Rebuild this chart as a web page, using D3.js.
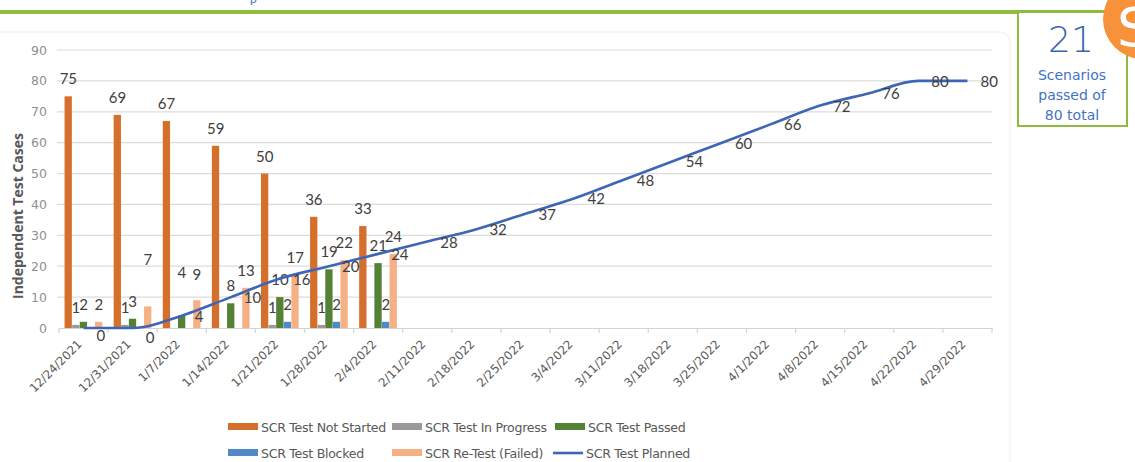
<!DOCTYPE html>
<html><head><meta charset="utf-8">
<script src="https://cdn.jsdelivr.net/npm/d3@7"></script>
<style>
body{margin:0;background:#fff;}
svg{display:block;}
</style></head>
<body>
<svg id="chart" width="1135" height="462"></svg>
<script>
const categories = ["12/24/2021","12/31/2021","1/7/2022","1/14/2022","1/21/2022","1/28/2022","2/4/2022","2/11/2022","2/18/2022","2/25/2022","3/4/2022","3/11/2022","3/18/2022","3/25/2022","4/1/2022","4/8/2022","4/15/2022","4/22/2022","4/29/2022"];
const notStarted = [75,69,67,59,50,36,33,null,null,null,null,null,null,null,null,null,null,null,null];
const inProgress = [1,1,0,0,1,1,0,null,null,null,null,null,null,null,null,null,null,null,null];
const passed     = [2,3,4,8,10,19,21,null,null,null,null,null,null,null,null,null,null,null,null];
const blocked    = [0,0,0,0,2,2,2,null,null,null,null,null,null,null,null,null,null,null,null];
const retest     = [2,7,9,13,17,22,24,null,null,null,null,null,null,null,null,null,null,null,null];
const planned    = [0,0,4,10,16,20,24,28,32,37,42,48,54,60,66,72,76,80,80];
const yTicks = [0,10,20,30,40,50,60,70,80,90];
const seriesNames = ["SCR Test Not Started","SCR Test In Progress","SCR Test Passed","SCR Test Blocked","SCR Re-Test (Failed)","SCR Test Planned"];
const passedCount = 21, totalCount = 80;

const colors = ["#d5702c","#9a9a9a","#538135","#4f89c6","#f5b183","#3d66b6"];
const barSeries = [notStarted,inProgress,passed,blocked,retest];

const svg = d3.select("#chart");
const plotL = 59, plotR = 992, plotT = 50, plotB = 328;
const font = "'Lato','Open Sans',sans-serif";

// faint chart area border
svg.append("rect").attr("x",-20).attr("y",32).attr("width",1030).attr("height",460)
  .attr("rx",10).attr("fill","none").attr("stroke","#ececec").attr("stroke-width",1);

// top green rule
svg.append("rect").attr("x",0).attr("y",10).attr("width",1135).attr("height",4).attr("fill","#8fbc3f");
svg.append("text").attr("x",250).attr("y",3).attr("fill","#4472c4").attr("font-size",12).attr("font-family",font).text("p");

const x = d3.scaleBand().domain(categories).range([plotL,plotR]).paddingInner(0).paddingOuter(0);
const y = d3.scaleLinear().domain([0,90]).range([plotB,plotT]);
const groupW = 38;
const xs = d3.scaleBand().domain(d3.range(5)).range([0,groupW]).padding(0);
const groupOffset = (x.bandwidth()-groupW)/2;

// gridlines
svg.append("g").selectAll("line").data(yTicks.filter(d=>d>0)).join("line")
  .attr("x1",plotL-2).attr("x2",plotR).attr("y1",d=>y(d)).attr("y2",d=>y(d))
  .attr("stroke","#dcdcdc").attr("stroke-width",1.2);

// y axis labels
const yAxis = d3.axisLeft(y).tickValues(yTicks).tickSize(0).tickPadding(0);
const gy = svg.append("g").attr("transform",`translate(${plotL-12},0)`).call(yAxis);
gy.select(".domain").remove();
gy.selectAll("text").attr("font-family","'DejaVu Sans',sans-serif").attr("font-size",12.5).attr("fill","#8f8f8f");

// y title
svg.append("text").attr("transform",`translate(23,216) rotate(-90)`).attr("text-anchor","middle")
  .attr("font-family","'Open Sans',sans-serif").attr("font-weight","bold").attr("font-size",14).attr("fill","#595959")
  .text("Independent Test Cases");

// x axis
const xAxis = d3.axisBottom(x).tickSize(0).tickPadding(0);
const gx = svg.append("g").attr("transform",`translate(0,${plotB})`).call(xAxis);
gx.select(".domain").attr("stroke","#d4d4d4").attr("stroke-width",1.2);
gx.selectAll("text").attr("font-family","'DejaVu Sans',sans-serif").attr("font-size",11.8).attr("fill","#595959")
  .attr("text-anchor","end").attr("dy",0).attr("transform","translate(-1,17) rotate(-45)");
// boundary tick marks
svg.append("g").selectAll("line").data(d3.range(categories.length+1)).join("line")
  .attr("x1",i=>plotL+i*x.bandwidth()).attr("x2",i=>plotL+i*x.bandwidth())
  .attr("y1",plotB).attr("y2",plotB+5).attr("stroke","#d4d4d4").attr("stroke-width",1.2);

// bars
const labelNudge = {"4-1":-29,"2-2":-26,"4-2":-8};
barSeries.forEach((arr,si)=>{
  const data = arr.map((v,i)=>({v,i})).filter(d=>d.v!==null);
  svg.append("g").selectAll("rect").data(data).join("rect")
    .attr("x",d=>x(categories[d.i])+groupOffset+xs(si))
    .attr("width",xs.bandwidth()-0.3)
    .attr("y",d=>y(d.v)).attr("height",d=>plotB-y(d.v))
    .attr("fill",colors[si]);
  svg.append("g").selectAll("text").data(data.filter(d=>d.v>0)).join("text")
    .attr("x",d=>x(categories[d.i])+groupOffset+xs(si)+xs.bandwidth()/2)
    .attr("y",d=>y(d.v)-12+(labelNudge[si+"-"+d.i]||0))
    .attr("text-anchor","middle").attr("font-family",font).attr("font-size",15).attr("fill","#404040")
    .text(d=>d.v);
});

// planned line
const line = d3.line().x((d,i)=>x(categories[i])+x.bandwidth()/2).y(d=>y(d)).curve(d3.curveMonotoneX);
svg.append("path").datum(planned).attr("d",line).attr("fill","none").attr("stroke",colors[5]).attr("stroke-width",2.6);
svg.append("g").selectAll("text").data(planned).join("text")
  .attr("x",(d,i)=>x(categories[i])+x.bandwidth()/2+13)
  .attr("y",(d,i)=>y(d)+(d===0?8+i*2:1)+5)
  .attr("font-family",font).attr("font-size",15).attr("fill","#404040")
  .text(d=>d);

// legend
const legendItems = [
  {name:seriesNames[0],c:colors[0],x:228,y:427,type:"bar"},
  {name:seriesNames[1],c:colors[1],x:392,y:427,type:"bar"},
  {name:seriesNames[2],c:colors[2],x:555,y:427,type:"bar"},
  {name:seriesNames[3],c:colors[3],x:228,y:453,type:"bar"},
  {name:seriesNames[4],c:colors[4],x:392,y:453,type:"bar"},
  {name:seriesNames[5],c:colors[5],x:553,y:453,type:"line"}
];
const lg = svg.append("g").selectAll("g").data(legendItems).join("g");
lg.filter(d=>d.type==="bar").append("rect").attr("x",d=>d.x).attr("y",d=>d.y-4).attr("width",30).attr("height",7).attr("fill",d=>d.c);
lg.filter(d=>d.type==="line").append("line").attr("x1",d=>d.x).attr("x2",d=>d.x+30).attr("y1",d=>d.y).attr("y2",d=>d.y).attr("stroke",d=>d.c).attr("stroke-width",2.6);
lg.append("text").attr("x",d=>d.x+33).attr("y",d=>d.y+4.5).attr("font-family","'DejaVu Sans',sans-serif").attr("font-size",12.6)
  .attr("fill","#595959").attr("letter-spacing",-0.3).text(d=>d.name);

// summary box
svg.append("rect").attr("x",1018).attr("y",12).attr("width",109).attr("height",114).attr("fill","#fff").attr("stroke","#8fbc3f").attr("stroke-width",2);
svg.append("text").attr("x",1071).attr("y",52).attr("text-anchor","middle").attr("font-family","'DejaVu Sans',sans-serif").attr("font-weight",300).attr("font-size",36).attr("fill","#3a64ae").text(passedCount);
["Scenarios","passed of",`${totalCount} total`].forEach((t,i)=>{
  svg.append("text").attr("x",1072).attr("y",80+i*20).attr("text-anchor","middle").attr("font-family","'DejaVu Sans',sans-serif").attr("font-size",14).attr("fill","#4472c4").text(t);
});
svg.append("circle").attr("cx",1143).attr("cy",19).attr("r",40).attr("fill","#f7923a");
svg.append("text").attr("x",1117).attr("y",46).attr("font-family","'DejaVu Sans',sans-serif").attr("font-size",54).attr("fill","#fff").text("S");
</script>
</body></html>
